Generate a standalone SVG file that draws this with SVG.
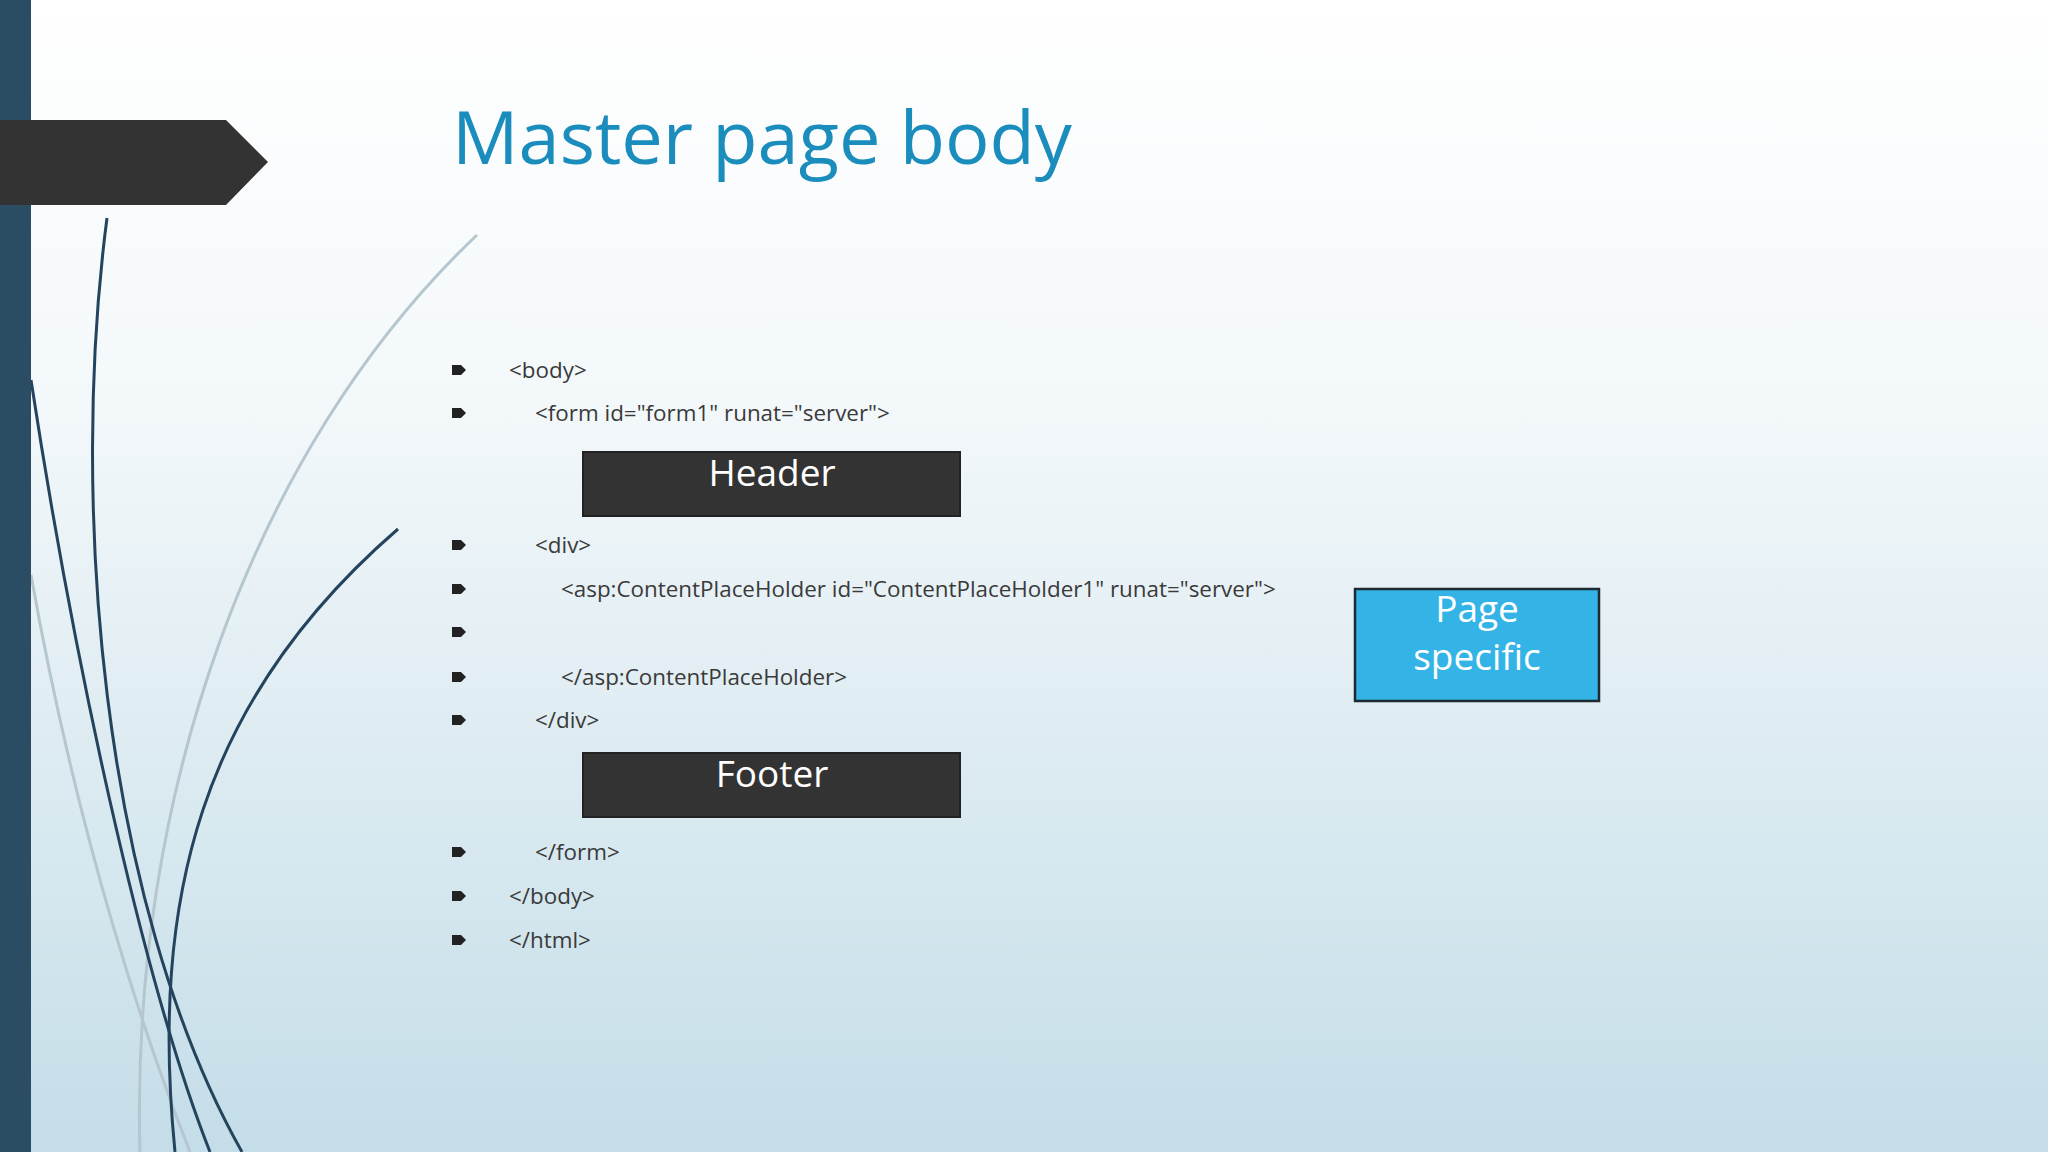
<svg xmlns="http://www.w3.org/2000/svg" width="2048" height="1152" viewBox="0 0 2048 1152">
<defs>
<linearGradient id="bg" x1="0" y1="0" x2="0" y2="1">
<stop offset="0" stop-color="#ffffff"/><stop offset="0.35" stop-color="#f3f8fa"/><stop offset="1" stop-color="#c4dde8"/>
</linearGradient>
<path id="bul" d="M0,-5 h9 l5,5 l-5,5 h-9 z"/>
</defs>
<style>
.code{font-family:"Open Sans","Noto Sans",sans-serif;font-size:22.4px;fill:#3a3a3a}
.box{fill:#333333;stroke:#222;stroke-width:2}
.btxt{font-family:"Open Sans","Noto Sans",sans-serif;font-size:37px;fill:#ffffff;text-anchor:middle}
.dk{fill:none;stroke:#24445e;stroke-width:3}
.lt{fill:none;stroke:#b5c6cf;stroke-width:3}
</style>
<rect width="2048" height="1152" fill="url(#bg)"/>
<g id="decor">
<path class="lt" d="M477,235 C250,450 130,800 140,1152"/>
<path class="lt" d="M31,575 C80,850 150,1050 190,1152"/>
<path class="dk" d="M107,218 C70,500 100,900 242,1152"/>
<path class="dk" d="M31,380 C80,700 150,1000 210,1152"/>
<path class="dk" d="M398,529 C200,700 150,900 175,1152"/>
<rect x="0" y="0" width="31" height="1152" fill="#2b4d63"/>
<path d="M0,120 H226 L268,162 L226,205 H0 Z" fill="#333333"/>
</g>
<text x="452" y="164" font-family="'Open Sans','Noto Sans',sans-serif" font-size="74" fill="#1a8dbd">Master page body</text>
<g id="code" fill="#222">
<use href="#bul" x="452" y="370"/><use href="#bul" x="452" y="413"/><use href="#bul" x="452" y="545"/><use href="#bul" x="452" y="589"/><use href="#bul" x="452" y="632"/><use href="#bul" x="452" y="677"/><use href="#bul" x="452" y="720"/><use href="#bul" x="452" y="852"/><use href="#bul" x="452" y="896"/><use href="#bul" x="452" y="940"/>
<text class="code" x="509" y="378">&lt;body&gt;</text>
<text class="code" x="535" y="421">&lt;form id="form1" runat="server"&gt;</text>
<text class="code" x="535" y="553">&lt;div&gt;</text>
<text class="code" x="561" y="597">&lt;asp:ContentPlaceHolder id="ContentPlaceHolder1" runat="server"&gt;</text>
<text class="code" x="561" y="685">&lt;/asp:ContentPlaceHolder&gt;</text>
<text class="code" x="535" y="728">&lt;/div&gt;</text>
<text class="code" x="535" y="860">&lt;/form&gt;</text>
<text class="code" x="509" y="904">&lt;/body&gt;</text>
<text class="code" x="509" y="948">&lt;/html&gt;</text>
</g>
<g id="header"><rect class="box" x="583" y="452" width="377" height="64"/><text class="btxt" x="772" y="486">Header</text></g>
<g id="footer"><rect class="box" x="583" y="753" width="377" height="64"/><text class="btxt" x="772" y="787">Footer</text></g>
<g id="pagespecific"><rect x="1355" y="589" width="244" height="112" fill="#33b3e6" stroke="#1e2a33" stroke-width="2.5"/>
<text class="btxt" x="1477" y="622">Page</text><text class="btxt" x="1477" y="670">specific</text></g>
<g id="connectors"/>
</svg>
